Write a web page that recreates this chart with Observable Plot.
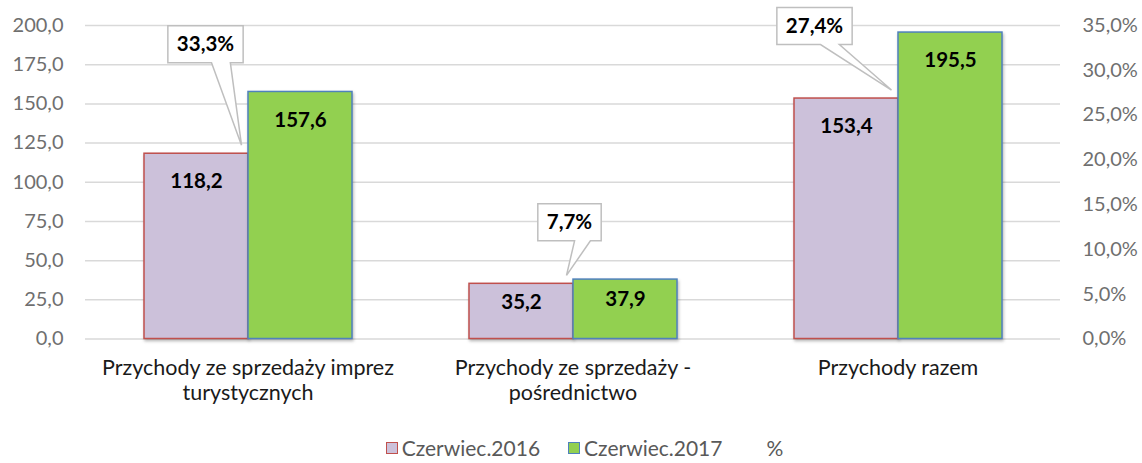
<!DOCTYPE html>
<html>
<head>
<meta charset="utf-8">
<script src="https://cdn.jsdelivr.net/npm/d3@7"></script>
<script src="https://cdn.jsdelivr.net/npm/@observablehq/plot@0.6"></script>
<style>
  html, body { margin: 0; padding: 0; background: #fff; }
  #chart { width: 1142px; height: 463px; position: relative; font-family: Lato, "Open Sans", sans-serif; }
  .bars rect { filter: drop-shadow(1px 2px 1.5px rgba(0,0,0,0.28)); }
  #legend { position: absolute; left: 0; top: 432px; width: 1142px; height: 31px; display: flex; justify-content: center;
            align-items: center; padding-left: 27px; box-sizing: border-box; font-size: 21px; color: #595959; }
  #legend .item { display: flex; align-items: center; margin: 0 14px; }
  #legend .sw { width: 10px; height: 10px; border: 1.5px solid; margin-right: 4px; }
</style>
</head>
<body>
<div id="chart"></div>
<script>
// ---- data ----
const categories = ["Przychody ze sprzedaży imprez turystycznych", "Przychody ze sprzedaży - pośrednictwo", "Przychody razem"];
const categoryLines = [["Przychody ze sprzedaży imprez", "turystycznych"], ["Przychody ze sprzedaży -", "pośrednictwo"], ["Przychody razem"]];
const seriesNames = ["Czerwiec.2016", "Czerwiec.2017"];
const values2016 = [118.2, 35.2, 153.4];
const values2017 = [157.6, 37.9, 195.5];
const percentChange = [33.3, 7.7, 27.4];
const percentLabel = "%";
const leftTicks = [0, 25, 50, 75, 100, 125, 150, 175, 200];
const rightTicks = [0, 5, 10, 15, 20, 25, 30, 35];

// ---- styles / layout ----
const fills = {"Czerwiec.2016": "#ccc1da", "Czerwiec.2017": "#92d050"};
const strokes = {"Czerwiec.2016": "#c0504d", "Czerwiec.2017": "#4f81bd"};
const yMax = leftTicks[leftTicks.length - 1];
const pMax = rightTicks[rightTicks.length - 1];
// callout box offsets (pixels) relative to the anchor at the top of the 2016 bar
const calloutOffsets = [[-42, -109], [-3, -61], [-83, -72]];

const comma = (v, d = 1) => v.toFixed(d).replace(".", ",");

const rows = [];
categories.forEach((c, i) => {
  rows.push({category: c, series: seriesNames[0], value: values2016[i]});
  rows.push({category: c, series: seriesNames[1], value: values2017[i]});
});
const labelMap = new Map(categories.map((c, i) => [c, categoryLines[i].join("\n")]));

const font = "Lato, 'Open Sans', sans-serif";

const plot = Plot.plot({
  width: 1142,
  height: 432,
  marginLeft: 85,
  marginRight: 82,
  marginTop: 25,
  marginBottom: 93.5,
  style: {fontFamily: font, fontSize: "20px", background: "white", overflow: "visible"},
  fx: {domain: categories, padding: 0, axis: null, label: null},
  x: {domain: seriesNames, paddingInner: 0, paddingOuter: 0.548, axis: null, label: null},
  y: {domain: [0, yMax], axis: null, label: null},
  marks: [
    Plot.gridY(leftTicks, {stroke: "#d9d9d9", strokeOpacity: 1, strokeWidth: 1.5}),
    Plot.axisY(leftTicks, {anchor: "left", tickSize: 0, tickPadding: 22, label: null,
      tickFormat: d => comma(d), fill: "#6f6f6f", fontSize: 20}),
    Plot.axisY(rightTicks.map(p => p * yMax / pMax), {anchor: "right", tickSize: 0, tickPadding: 22, label: null,
      tickFormat: d => comma(d * pMax / yMax) + "%", fill: "#6f6f6f", fontSize: 20}),
    Plot.barY(rows.filter(d => d.series === seriesNames[0]), {fx: "category", x: "series", y: "value",
      fill: fills[seriesNames[0]], stroke: strokes[seriesNames[0]], strokeWidth: 1.5, className: "bars"}),
    Plot.barY(rows.filter(d => d.series === seriesNames[1]), {fx: "category", x: "series", y: "value",
      fill: fills[seriesNames[1]], stroke: strokes[seriesNames[1]], strokeWidth: 1.5, className: "bars"}),
    Plot.text(rows, {fx: "category", x: "series", y: d => d.value - Math.min(18, d.value / 3),
      text: d => comma(d.value), fontWeight: "bold", fontSize: 20.5, fill: "#000"}),
    Plot.text(categories, {fx: d => d, text: d => labelMap.get(d), frameAnchor: "bottom", lineAnchor: "top",
      dy: 18, lineHeight: 1.17, fontSize: 21.5, fill: "#1a1a1a"})
  ]
});

const chart = document.getElementById("chart");
chart.appendChild(plot);

// ---- callouts for % change, positioned with the plot's own scales ----
const fxS = plot.scale("fx");
const yS = plot.scale("y");
const bw = fxS.bandwidth != null ? fxS.bandwidth : (fxS.range[1] - fxS.range[0]) / categories.length;
const svg = d3.select(plot);
const g = svg.append("g").attr("class", "callouts");
categories.forEach((c, i) => {
  const ax = fxS.apply(c) + bw / 2;
  const ay = yS.apply(values2016[i]);
  const tipX = ax - 6, tipY = ay - 8;
  const cx = ax + calloutOffsets[i][0], cy = ay + calloutOffsets[i][1];
  const t = g.append("text").attr("x", cx).attr("y", cy).attr("text-anchor", "middle").attr("dy", "0.35em")
    .attr("font-family", font).attr("font-size", 20.5).attr("font-weight", "bold").attr("fill", "#000")
    .text(comma(percentChange[i]) + "%");
  const tw = t.node().getComputedTextLength();
  const w = tw + 18, h = 37;
  const x0 = cx - w / 2, y0 = cy - h / 2, x1 = cx + w / 2, y1 = cy + h / 2;
  const pts = [[x0, y0], [x1, y0], [x1, y1], [x0 + 0.83 * w, y1], [tipX, tipY], [x0 + 0.58 * w, y1], [x0, y1]];
  g.insert("path", "text").attr("d", "M" + pts.map(p => p.join(",")).join("L") + "Z")
    .attr("fill", "#fff").attr("stroke", "#bfbfbf").attr("stroke-width", 1.5).attr("stroke-linejoin", "miter");
  t.raise();
});

// ---- legend ----
const legend = d3.select(chart).append("div").attr("id", "legend");
seriesNames.forEach(s => {
  const it = legend.append("div").attr("class", "item");
  it.append("div").attr("class", "sw").style("background", fills[s]).style("border-color", strokes[s]);
  it.append("span").text(s);
});
const it3 = legend.append("div").attr("class", "item");
it3.append("div").attr("class", "sw").style("border-color", "transparent");
it3.append("span").text(percentLabel);
</script>
</body>
</html>
